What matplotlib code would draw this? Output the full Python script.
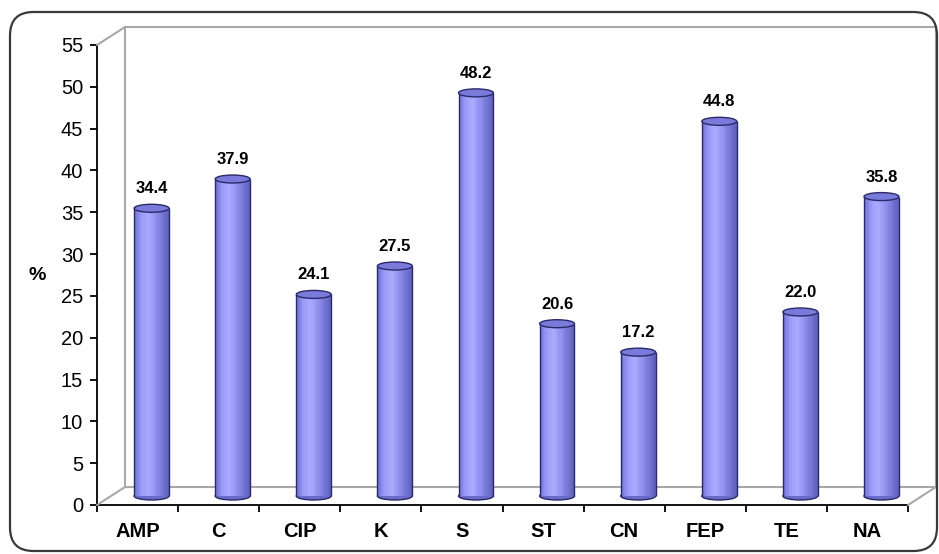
import numpy as np
import matplotlib
matplotlib.use("Agg")
import matplotlib.pyplot as plt
from matplotlib import transforms
from matplotlib.patches import Ellipse, Rectangle, FancyBboxPatch, ConnectionPatch
from matplotlib.colors import LinearSegmentedColormap

# data
categories = ["AMP", "C", "CIP", "K", "S", "ST", "CN", "FEP", "TE", "NA"]
values = [34.4, 37.9, 24.1, 27.5, 48.2, 20.6, 17.2, 44.8, 22.0, 35.8]
yticks = list(range(0, 56, 5))

plt.rcParams["font.family"] = ["Liberation Sans", "DejaVu Sans"]

W, H, DPI = 939, 554, 100
fig = plt.figure(figsize=(W / DPI, H / DPI), dpi=DPI)

# axes box in pixels (front plane)
left_px, right_px, top_px, bot_px = 97, 908, 45, 505
ax = fig.add_axes([left_px / W, (H - bot_px) / H,
                   (right_px - left_px) / W, (bot_px - top_px) / H])
ax.set_xlim(-0.5, len(categories) - 0.5)
ax.set_ylim(0, 55)
ax.patch.set_alpha(0)

# depth offsets (in pixels)
dx, dy = 28, 18
wall_tr = transforms.offset_copy(ax.transData, fig=fig, x=dx, y=dy, units="dots")
bar_tr = transforms.offset_copy(ax.transData, fig=fig, x=dx / 2, y=dy / 2, units="dots")
lab_tr = transforms.offset_copy(bar_tr, fig=fig, x=0, y=12, units="dots")

wall_col = "#a8a8a8"
# back wall + floor back edge
ax.add_patch(Rectangle((-0.5, 0), len(categories), 55, transform=wall_tr,
                       fill=False, edgecolor=wall_col, lw=1.5, clip_on=False, zorder=0.5))
for xy in [(-0.5, 55), (-0.5, 0), (len(categories) - 0.5, 0)]:
    con = ConnectionPatch(xyA=xy, coordsA=ax.transData, xyB=xy, coordsB=wall_tr,
                          color=wall_col, lw=1.5, zorder=0.5)
    fig.add_artist(con)

# cylinders
bw = 0.43
nstrip = 30
cmap = LinearSegmentedColormap.from_list(
    "cyl", ["#7373d6", "#9c9cf8", "#aaaaff", "#9494f0", "#7878d8", "#6060bc"])
ell_h = 8 * 55 / (bot_px - top_px)
edge = "#2a2a6a"
x = np.arange(len(categories))
for i, v in zip(x, values):
    ax.add_patch(Ellipse((i, 0), bw, ell_h, transform=bar_tr, facecolor="#6a6ac8",
                         edgecolor=edge, lw=1.0, zorder=2, clip_on=False))
    edges = np.linspace(i - bw / 2, i + bw / 2, nstrip + 1)
    sw = edges[1] - edges[0]
    cols = cmap(np.linspace(0, 1, nstrip))
    ax.bar(edges[:-1], v, width=sw * 1.05, align="edge", color=cols, lw=0,
           transform=bar_tr, zorder=3, clip_on=False)
    ax.vlines([i - bw / 2, i + bw / 2], 0, v, colors=edge, lw=1.0,
              transform=bar_tr, zorder=4, clip_on=False)
    ax.add_patch(Ellipse((i, v), bw, ell_h, transform=bar_tr, facecolor="#7a7ada",
                         edgecolor=edge, lw=1.0, zorder=5, clip_on=False))
    ax.text(i, v, f"{v:.1f}", transform=lab_tr, ha="center", va="bottom",
            fontsize=12, fontweight="bold", zorder=6)

# axes styling
for s in ["top", "right"]:
    ax.spines[s].set_visible(False)
ax.spines["left"].set_linewidth(1.3)
ax.spines["bottom"].set_linewidth(1.3)
ax.set_yticks(yticks)
ax.tick_params(axis="y", length=5, width=1.3, pad=5, labelsize=14.5)
ax.set_xticks(x)
ax.set_xticklabels(categories, fontsize=14.5, fontweight="bold")
ax.tick_params(axis="x", which="major", length=0, pad=12)
ax.set_xticks(np.arange(-0.5, len(categories)), minor=True)
ax.tick_params(axis="x", which="minor", length=5, width=1.3)
ax.set_ylabel("%", rotation=0, fontsize=14, fontweight="bold", va="center", ha="center")
ax.yaxis.set_label_coords(-60 / (right_px - left_px), 0.5)

# rounded outer frame
frame = FancyBboxPatch((10 / W, 3 / H), 927 / W, 539 / H,
                       boxstyle="round,pad=0,rounding_size=0.025",
                       transform=fig.transFigure, fill=False,
                       edgecolor="#3a3a3a", lw=1.6, mutation_aspect=W / H)
fig.add_artist(frame)

fig.savefig("out.png", dpi=DPI)
